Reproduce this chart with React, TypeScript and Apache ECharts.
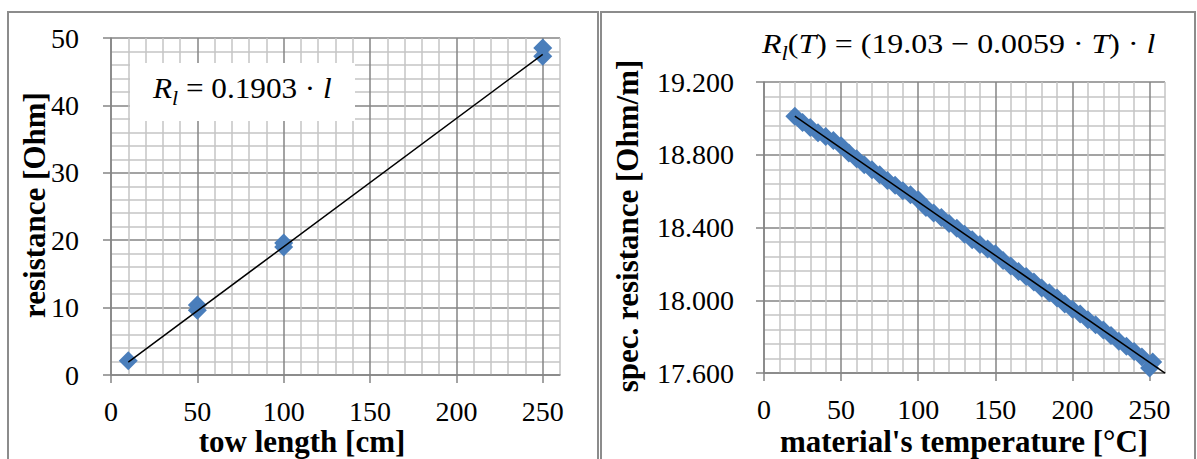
import React, { useEffect, useRef } from "react";
import * as echarts from "echarts";

// ---------- data ----------
const towLength = [10, 50, 50, 100, 100, 250, 250];
const towResistance = [2.1, 10.4, 9.6, 19.6, 19.0, 48.5, 47.3];
const lenTrendX = [10, 250];
const lenTrendY = [1.903, 47.575];

const temperature = [
  20, 25, 30, 35, 40, 45, 50, 55, 60, 65, 70, 75, 80, 85, 90, 95, 100, 105,
  110, 115, 120, 125, 130, 135, 140, 145, 150, 155, 160, 165, 170, 175, 180,
  185, 190, 195, 200, 205, 210, 215, 220, 225, 230, 235, 240, 245, 250, 252,
];
const specResistance = [
  19.012, 18.978, 18.95, 18.921, 18.9, 18.878, 18.85, 18.81, 18.778, 18.745,
  18.718, 18.69, 18.658, 18.632, 18.602, 18.58, 18.552, 18.51, 18.48, 18.455,
  18.422, 18.396, 18.363, 18.333, 18.306, 18.282, 18.256, 18.218, 18.188,
  18.158, 18.13, 18.1, 18.068, 18.041, 18.012, 17.98, 17.95, 17.924, 17.893,
  17.865, 17.836, 17.806, 17.775, 17.747, 17.718, 17.688, 17.628, 17.66,
];
const tempTrendX = [20, 260];
const tempTrendY = [19.012, 17.599];

const xTickValues = [0, 50, 100, 150, 200, 250];
const leftYTickValues = [0, 10, 20, 30, 40, 50];
const rightYTickValues = [17.6, 18.0, 18.4, 18.8, 19.2];

// ---------- styles ----------
const MAJOR = "#858585";
const MINOR = "#c4c4c4";
const BLUE = "#4a7ebb";
const SERIF = "Liberation Serif";
const TICK_FONT = 28;
const TITLE_FONT = 31;

const gridColors = [MAJOR, MINOR, MINOR, MINOR, MINOR];

function minorAxis(gridIndex: number, position: string, min: number, max: number, interval: number) {
  return {
    type: "value",
    gridIndex,
    position,
    min,
    max,
    interval,
    z: 0,
    axisLine: { show: false },
    axisTick: { show: false },
    axisLabel: { show: false },
    splitLine: { show: true, lineStyle: { color: gridColors, width: 1.5 } },
  };
}

function majorAxis(
  gridIndex: number,
  position: string,
  min: number,
  max: number,
  interval: number,
  ticks: number[],
  margin: number,
  formatter?: (v: number) => string
) {
  return {
    type: "value",
    gridIndex,
    position,
    offset: 0,
    min,
    max,
    interval,
    z: 1,
    axisLine: { show: true, onZero: false, lineStyle: { color: MAJOR, width: 1.5 } },
    axisTick: {
      show: true,
      inside: false,
      length: 8,
      customValues: ticks,
      lineStyle: { color: MAJOR, width: 1.5 },
    },
    axisLabel: {
      show: true,
      customValues: ticks,
      margin,
      color: "#000",
      fontFamily: SERIF,
      fontSize: TICK_FONT,
      formatter: formatter || ((v: number) => String(v)),
    },
    splitLine: { show: false },
  };
}

export default function App() {
  const ref = useRef<HTMLDivElement>(null);

  useEffect(() => {
    if (!ref.current) return;
    const chart = echarts.init(ref.current, null, { renderer: "svg" });

    const eqRich = {
      i: { fontFamily: SERIF, fontStyle: "italic", fontSize: 30, lineHeight: 36, verticalAlign: "top", color: "#000" },
      n: { fontFamily: SERIF, fontSize: 30, lineHeight: 36, verticalAlign: "top", color: "#000" },
      s: { fontFamily: SERIF, fontStyle: "italic", fontSize: 21, lineHeight: 21, verticalAlign: "bottom", color: "#000" },
    };
    const eqRich2 = {
      i: { fontFamily: SERIF, fontStyle: "italic", fontSize: 28, lineHeight: 34, verticalAlign: "top", color: "#000" },
      n: { fontFamily: SERIF, fontSize: 28, lineHeight: 34, verticalAlign: "top", color: "#000" },
      s: { fontFamily: SERIF, fontStyle: "italic", fontSize: 20, lineHeight: 20, verticalAlign: "bottom", color: "#000" },
    };

    const titleStyle = (text: string) => ({
      text,
      fontFamily: SERIF,
      fontWeight: "bold",
      fontSize: TITLE_FONT,
      fill: "#000",
      textAlign: "center",
      textVerticalAlign: "middle",
    });

    const option = {
      animation: false,
      backgroundColor: "#ffffff",
      textStyle: { fontFamily: SERIF },
      grid: [
        { left: 111, top: 38, width: 449, height: 337, containLabel: false },
        { left: 764, top: 82, width: 401, height: 291, containLabel: false },
      ],
      xAxis: [
        minorAxis(0, "top", 0, 260, 10),
        majorAxis(0, "bottom", 0, 260, 50, xTickValues, 22),
        minorAxis(1, "top", 0, 260, 10),
        majorAxis(1, "bottom", 0, 260, 50, xTickValues, 22),
      ],
      yAxis: [
        minorAxis(0, "right", 0, 50, 2),
        majorAxis(0, "left", 0, 50, 10, leftYTickValues, 32),
        minorAxis(1, "right", 17.6, 19.2, 0.08),
        majorAxis(1, "left", 17.6, 19.2, 0.4, rightYTickValues, 30, (v: number) => v.toFixed(3)),
      ],
      series: [
        {
          type: "scatter",
          xAxisIndex: 1,
          yAxisIndex: 1,
          symbol: "diamond",
          symbolSize: 19,
          itemStyle: { color: BLUE, opacity: 1 },
          data: towLength.map((x, k) => [x, towResistance[k]]),
          z: 3,
        },
        {
          type: "line",
          xAxisIndex: 1,
          yAxisIndex: 1,
          symbol: "none",
          lineStyle: { color: "#000", width: 1.5 },
          data: lenTrendX.map((x, k) => [x, lenTrendY[k]]),
          z: 4,
        },
        {
          type: "scatter",
          xAxisIndex: 3,
          yAxisIndex: 3,
          symbol: "diamond",
          symbolSize: 19,
          itemStyle: { color: BLUE, opacity: 1 },
          data: temperature.map((x, k) => [x, specResistance[k]]),
          z: 3,
        },
        {
          type: "line",
          xAxisIndex: 3,
          yAxisIndex: 3,
          symbol: "none",
          lineStyle: { color: "#000", width: 1.5 },
          data: tempTrendX.map((x, k) => [x, tempTrendY[k]]),
          z: 4,
        },
      ],
      graphic: [
        {
          type: "rect",
          shape: { x: 8, y: 12, width: 590, height: 470 },
          style: { fill: "none", stroke: "#8c8c8c", lineWidth: 2 },
          silent: true,
          z: 10,
        },
        {
          type: "rect",
          shape: { x: 601, y: 12, width: 594, height: 470 },
          style: { fill: "none", stroke: "#8c8c8c", lineWidth: 2 },
          silent: true,
          z: 10,
        },
        {
          type: "rect",
          shape: { x: 130, y: 63, width: 225, height: 58 },
          style: { fill: "#ffffff" },
          z: 5,
        },
        {
          type: "text",
          x: 153,
          y: 73,
          scaleX: 1.04,
          z: 6,
          style: {
            text: "{i|R}{s|l}{n| = 0.1903 · }{i|l}",
            rich: eqRich,
          },
        },
        {
          type: "text",
          x: 762,
          y: 29,
          scaleX: 1.14,
          z: 6,
          style: {
            text: "{i|R}{s|l}{n|(}{i|T}{n|) = (19.03 − 0.0059 · }{i|T}{n|) · }{i|l}",
            rich: eqRich2,
          },
        },
        { type: "text", x: 302, y: 441, z: 6, style: titleStyle("tow length [cm]") },
        { type: "text", x: 964, y: 441, z: 6, style: titleStyle("material's temperature [°C]") },
        { type: "text", x: 34, y: 205, rotation: Math.PI / 2, z: 6, style: titleStyle("resistance [Ohm]") },
        { type: "text", x: 627, y: 226, rotation: Math.PI / 2, z: 6, style: titleStyle("spec. resistance [Ohm/m]") },
      ],
    };

    chart.setOption(option as any);
    return () => chart.dispose();
  }, []);

  return (
    <div
      ref={ref}
      style={{ position: "absolute", left: 0, top: 0, width: 1197, height: 459, background: "#fff" }}
    />
  );
}
